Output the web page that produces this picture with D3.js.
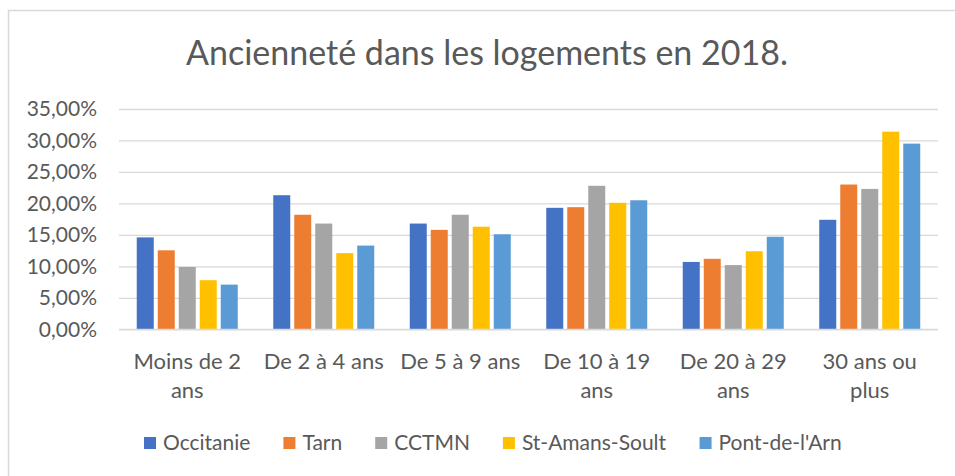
<!DOCTYPE html>
<html>
<head>
<meta charset="utf-8">
<script src="https://cdn.jsdelivr.net/npm/d3@7"></script>
<style>
  body { margin: 0; background: #fff; }
  text { font-family: Lato, "Open Sans", sans-serif; fill: #595959; }
</style>
</head>
<body>
<div id="chart"></div>
<script>
// Chart data (shares of households, in %)
const categories = ["Moins de 2 ans", "De 2 à 4 ans", "De 5 à 9 ans", "De 10 à 19 ans", "De 20 à 29 ans", "30 ans ou plus"];
const tickLabels = [["Moins de 2", "ans"], ["De 2 à 4 ans"], ["De 5 à 9 ans"], ["De 10 à 19", "ans"], ["De 20 à 29", "ans"], ["30 ans ou", "plus"]];
const seriesNames = ["Occitanie", "Tarn", "CCTMN", "St-Amans-Soult", "Pont-de-l'Arn"];
const occitanie = [14.6, 21.3, 16.8, 19.3, 10.7, 17.4];
const tarn = [12.55, 18.2, 15.8, 19.4, 11.2, 23.0];
const cctmn = [9.9, 16.8, 18.2, 22.8, 10.2, 22.3];
const stAmans = [7.8, 12.1, 16.3, 20.1, 12.4, 31.4];
const pontDeLArn = [7.1, 13.3, 15.1, 20.5, 14.7, 29.5];
const yTicks = [0, 5, 10, 15, 20, 25, 30, 35];

const seriesValues = [occitanie, tarn, cctmn, stAmans, pontDeLArn];
const colors = ["#4472C4", "#ED7D31", "#A5A5A5", "#FFC000", "#5B9BD5"];

const width = 955;
const height = 476;
const plot = { left: 119, right: 938, top: 109, bottom: 329.3 };

const svg = d3.select("#chart").append("svg")
    .attr("width", width)
    .attr("height", height);

svg.append("rect")
    .attr("x", 8.5).attr("y", 10.5)
    .attr("width", 970).attr("height", 490)
    .attr("fill", "#fff")
    .attr("stroke", "#d9d9d9")
    .attr("stroke-width", 1.5);

// Title
svg.append("text")
    .attr("x", 487).attr("y", 65)
    .attr("text-anchor", "middle")
    .attr("font-size", 34)
    .text("Ancienneté dans les logements en 2018.");

// Scales
const x0 = d3.scaleBand()
    .domain(categories)
    .range([plot.left, plot.right]);

const x1 = d3.scaleBand()
    .domain(seriesNames)
    .range([0, x0.bandwidth()])
    .paddingOuter(0.75);

const y = d3.scaleLinear()
    .domain([0, 35])
    .range([plot.bottom, plot.top]);

const frLocale = d3.formatLocale({ decimal: ",", thousands: " ", grouping: [3], currency: ["", " €"] });
const pct = frLocale.format(".2f");

// Gridlines + y labels
const yAxis = svg.append("g")
    .attr("transform", `translate(${plot.left},0)`)
    .call(d3.axisLeft(y).tickValues(yTicks).tickSize(-(plot.right - plot.left)).tickPadding(22).tickFormat(d => pct(d) + "%"));
yAxis.select(".domain").remove();
yAxis.selectAll("line").attr("stroke", "#d9d9d9").attr("stroke-width", 1.3);
yAxis.selectAll("text").attr("font-size", 21).attr("fill", "#595959").style("font-family", "Lato, sans-serif");

// Bars
const groups = svg.append("g")
    .selectAll("g")
    .data(categories)
    .join("g")
    .attr("transform", d => `translate(${x0(d)},0)`);

groups.selectAll("rect")
    .data((c, i) => seriesNames.map((s, j) => ({ s, j, v: seriesValues[j][i] })))
    .join("rect")
    .attr("x", d => x1(d.s) + 2)
    .attr("width", x1.bandwidth() - 4)
    .attr("y", d => y(d.v))
    .attr("height", d => y(0) - y(d.v))
    .attr("fill", d => colors[d.j]);

// Category axis
svg.append("line")
    .attr("x1", plot.left).attr("x2", plot.right)
    .attr("y1", y(0)).attr("y2", y(0))
    .attr("stroke", "#d9d9d9").attr("stroke-width", 1.3);

const catLabels = svg.append("g")
    .selectAll("text")
    .data(categories)
    .join("text")
    .attr("x", d => x0(d) + x0.bandwidth() / 2)
    .attr("y", 369)
    .attr("text-anchor", "middle")
    .attr("font-size", 22);

catLabels.selectAll("tspan")
    .data((d, i) => tickLabels[i])
    .join("tspan")
    .attr("x", function () { return this.parentNode.getAttribute("x"); })
    .attr("dy", (d, i) => i === 0 ? 0 : 29)
    .text(d => d);

// Legend, laid out left to right from the first swatch
const legend = svg.append("g");
const items = legend.selectAll("g")
    .data(seriesNames)
    .join("g");
items.append("rect")
    .attr("width", 12).attr("height", 12)
    .attr("y", 437)
    .attr("fill", (d, i) => colors[i]);
items.append("text")
    .attr("x", 19)
    .attr("y", 443)
    .attr("dy", "0.35em")
    .attr("font-size", 21)
    .text(d => d);

let offset = 144;
items.each(function () {
    const g = d3.select(this);
    g.attr("transform", `translate(${offset},0)`);
    const w = g.select("text").node().getBBox().width;
    offset += 19 + w + 33;
});
</script>
</body>
</html>
